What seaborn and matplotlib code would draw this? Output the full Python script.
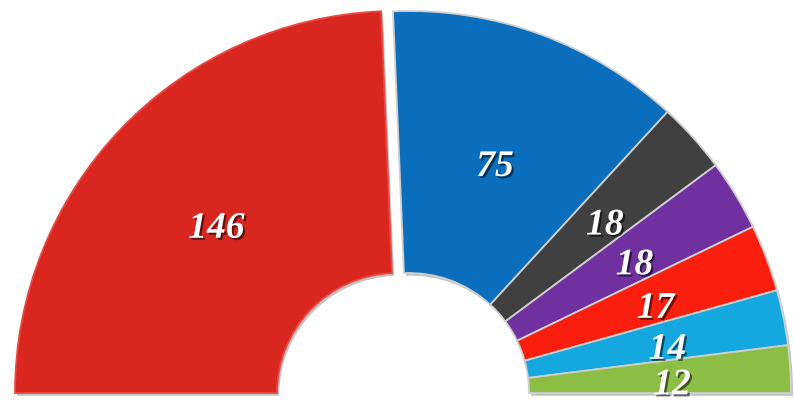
import matplotlib.pyplot as plt
import matplotlib.patheffects as pe
import numpy as np
import seaborn as sns

# seats per party (half-donut parliament chart)
seats = [146, 75, 18, 18, 17, 14, 12]
labels = [str(s) for s in seats]
colors = ['#D9261F', '#0A6EBD', '#404040', '#7030A0', '#FA1E0E', '#15A8E0', '#8CBE45']

sns.set_theme(style='white')

fig = plt.figure(figsize=(7.94, 4.05), dpi=100)
ax = fig.add_axes([0, 0, 1, 1])

R = 382.0          # outer radius in pixels
ring = 1 - 120 / R  # ring width relative to outer radius

total = sum(seats)
fracs = [s / (2 * total) for s in seats]

wedges, _ = ax.pie(fracs, normalize=False, colors=colors, startangle=180,
                   counterclock=False, radius=1,
                   wedgeprops=dict(width=ring, edgecolor='#cfcfcf', linewidth=1.3))

shadow = [pe.SimplePatchShadow(offset=(1.5, -2), shadow_rgbFace='#555555', alpha=0.35), pe.Normal()]
for i, w in enumerate(wedges):
    dx = -6 / R if i == 0 else 6 / R
    w.set_center((dx, 0))
    w.set_path_effects(shadow)
    if i == 0:
        w.set_edgecolor('#E84A43')

for i, (w, lab) in enumerate(zip(wedges, labels)):
    theta = np.radians((w.theta1 + w.theta2) / 2)
    r = 0.655 if i < 2 else 0.69
    cx = w.center[0]
    x = cx + r * np.cos(theta)
    y = r * np.sin(theta) - 0.022
    ax.text(x, y, lab, ha='center', va='center', color='white',
            fontsize=27, fontweight='bold', fontstyle='italic',
            family=['Liberation Serif', 'DejaVu Serif'],
            path_effects=[pe.SimplePatchShadow(offset=(1.5, -1.5), shadow_rgbFace='black', alpha=0.55),
                          pe.Normal()])

ax.set_xlim(-403 / R, 391 / R)
ax.set_ylim(-12 / R, 393 / R)
ax.set_aspect('equal')
ax.axis('off')

plt.savefig('out.png', dpi=100, facecolor='white')
